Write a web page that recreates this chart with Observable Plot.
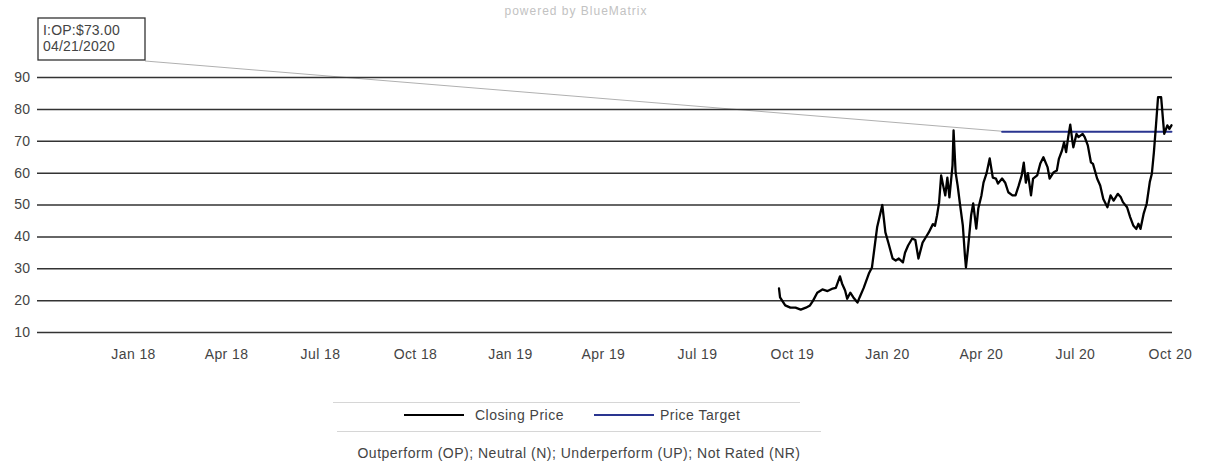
<!DOCTYPE html>
<html>
<head>
<meta charset="utf-8">
<script src="https://cdn.jsdelivr.net/npm/d3@7"></script>
<script src="https://cdn.jsdelivr.net/npm/@observablehq/plot@0.6"></script>
<style>
  body { margin: 0; background: #fff; font-family: "Liberation Sans", Arial, sans-serif; }
  #wrap { position: relative; width: 1206px; height: 468px; overflow: hidden; background: #fff; }
  #sub { position: relative; height: 17px; }
  #sub span { position: absolute; left: 0; width: 1152px; top: 4px; text-align: center; font-size: 12px; letter-spacing: 1px; line-height: 14px; color: #c2c2c2; }
  #leg { position: relative; height: 96px; color: #444; font-size: 14px; letter-spacing: 0.5px; }
  .sep { position: absolute; height: 1px; background: #d6d6d6; }
  .sw { position: absolute; height: 2px; }
  .lt { position: absolute; line-height: 16px; white-space: nowrap; }
  #foot { position: absolute; left: 0; width: 1158px; text-align: center; line-height: 16px; }
</style>
</head>
<body>
<div id="wrap">
  <div id="sub"><span>powered by BlueMatrix</span></div>
  <div id="chart"></div>
  <div id="leg"></div>
</div>
<script>
// ---- data ----
const closingDates = [
  "2019-09-18","2019-09-19","2019-09-24","2019-09-29","2019-10-04","2019-10-09","2019-10-14","2019-10-18",
  "2019-10-21","2019-10-25","2019-10-30","2019-11-04","2019-11-09","2019-11-12","2019-11-16","2019-11-18",
  "2019-11-21","2019-11-23","2019-11-26","2019-11-29","2019-12-03","2019-12-05","2019-12-09","2019-12-14",
  "2019-12-17","2019-12-20","2019-12-22","2019-12-27","2019-12-30","2020-01-02","2020-01-06","2020-01-09",
  "2020-01-12","2020-01-16","2020-01-18","2020-01-21","2020-01-25","2020-01-28","2020-01-31","2020-02-04",
  "2020-02-07","2020-02-10","2020-02-14","2020-02-16","2020-02-18","2020-02-20","2020-02-22","2020-02-24",
  "2020-02-26","2020-02-28","2020-03-01","2020-03-04","2020-03-05","2020-03-07","2020-03-09","2020-03-11",
  "2020-03-14","2020-03-16","2020-03-17","2020-03-19","2020-03-22","2020-03-24","2020-03-27","2020-03-29",
  "2020-04-01","2020-04-03","2020-04-06","2020-04-09","2020-04-12","2020-04-15","2020-04-17","2020-04-21",
  "2020-04-24","2020-04-27","2020-05-01","2020-05-04","2020-05-07","2020-05-10","2020-05-12","2020-05-14",
  "2020-05-16","2020-05-19","2020-05-21","2020-05-25","2020-05-28","2020-05-31","2020-06-04","2020-06-06",
  "2020-06-10","2020-06-13","2020-06-15","2020-06-18","2020-06-20","2020-06-22","2020-06-24","2020-06-26",
  "2020-06-28","2020-06-29","2020-07-02","2020-07-04","2020-07-08","2020-07-10","2020-07-13","2020-07-16",
  "2020-07-18","2020-07-22","2020-07-25","2020-07-28","2020-08-01","2020-08-04","2020-08-07","2020-08-11",
  "2020-08-14","2020-08-16","2020-08-20","2020-08-23","2020-08-26","2020-08-29","2020-08-31","2020-09-02",
  "2020-09-05","2020-09-08","2020-09-11","2020-09-13","2020-09-15","2020-09-17","2020-09-19","2020-09-22",
  "2020-09-24","2020-09-25","2020-09-28","2020-09-30","2020-10-02"
];
const closingValues = [
  23.8, 21.0, 18.5, 17.8, 17.8, 17.2, 17.8, 18.5,
  20.0, 22.5, 23.5, 23.0, 23.8, 24.0, 27.6, 25.4,
  23.2, 20.6, 22.5, 21.0, 19.4, 21.0, 24.0, 28.5,
  30.4, 38.0, 43.0, 50.0, 41.4, 38.0, 33.2, 32.6,
  33.2, 32.0, 35.0, 37.3, 39.5, 39.0, 33.2, 38.2,
  39.8, 41.4, 44.0, 43.5, 46.7, 50.8, 59.3, 56.0,
  53.0, 58.6, 52.4, 62.4, 73.4, 60.2, 56.0, 50.8,
  43.5, 34.2, 30.4, 36.4, 46.7, 50.5, 42.6, 49.0,
  53.0, 57.0, 60.0, 64.6, 58.6, 58.3, 56.7, 58.3,
  57.0, 54.0, 53.0, 53.0, 56.0, 59.3, 63.3, 57.0,
  60.0, 53.0, 58.3, 59.3, 63.0, 65.0, 61.9, 58.3,
  60.3, 60.8, 64.5, 67.1, 69.7, 66.6, 71.3, 75.2,
  70.2, 68.1, 72.3, 71.3, 72.3, 71.3, 68.7, 63.4,
  62.9, 58.3, 56.1, 51.9, 49.3, 53.0, 51.4, 53.5,
  52.4, 50.9, 49.3, 46.2, 43.6, 42.5, 44.1, 42.5,
  47.2, 50.4, 57.2, 59.8, 66.6, 75.0, 83.8, 83.8,
  76.0, 72.3, 75.0, 73.9, 75.0
];
const targetDates = ["2020-04-21", "2020-10-02"];
const targetValues = [73, 73];
const ratingDates = ["2020-04-21"];
const ratingCodes = ["I:OP"];
const ratingTargets = [73];
const xDomain = ["2017-09-30", "2020-10-03"];
const xTickDates = ["2018-01-01","2018-04-01","2018-07-01","2018-10-01","2019-01-01","2019-04-01",
  "2019-07-01","2019-10-01","2020-01-01","2020-04-01","2020-07-01","2020-10-01"];
const xTickLabels = ["Jan 18","Apr 18","Jul 18","Oct 18","Jan 19","Apr 19","Jul 19","Oct 19","Jan 20","Apr 20","Jul 20","Oct 20"];
const yTicks = [10, 20, 30, 40, 50, 60, 70, 80, 90];
const seriesNames = ["Closing Price", "Price Target"];
const seriesColors = ["#000000", "#2a3590"];
const footnote = "Outperform (OP); Neutral (N); Underperform (UP); Not Rated (NR)";

// ---- chart ----
const parse = d3.utcParse("%Y-%m-%d");
const closeData = closingDates.map((d, i) => ({date: parse(d), price: closingValues[i]}));
const targetData = targetDates.map((d, i) => ({date: parse(d), target: targetValues[i]}));

const plot = Plot.plot({
  width: 1206,
  height: 355,
  marginLeft: 37,
  marginRight: 34,
  marginTop: 60,
  marginBottom: 40,
  style: {fontFamily: "'Liberation Sans', Arial, sans-serif", fontSize: "14px", letterSpacing: "0.4px", color: "#444", background: "transparent"},
  x: {type: "utc", domain: xDomain.map(parse)},
  y: {domain: [10, 90]},
  marks: [
    Plot.ruleY(yTicks, {stroke: "#333", strokeWidth: 1.5}),
    Plot.axisY({ticks: yTicks, tickSize: 0, tickPadding: 7, label: null}),
    Plot.axisX({ticks: xTickDates.map(parse), tickFormat: (d, i) => xTickLabels[i], tickSize: 0, tickPadding: 17, label: null}),
    Plot.line(targetData, {x: "date", y: "target", stroke: seriesColors[1], strokeWidth: 2}),
    Plot.line(closeData, {x: "date", y: "price", stroke: seriesColors[0], strokeWidth: 2.3})
  ]
});
document.getElementById("chart").appendChild(plot);

// rating callout box, tied to the rating point through the plot's scales
const svg = d3.select(plot);
const sx = plot.scale("x"), sy = plot.scale("y");
const px = sx.apply(parse(ratingDates[0])), py = sy.apply(ratingTargets[0]);
const bx = 38, by = 1, bw = 107, bh = 42;
svg.insert("line", "g")
  .attr("x1", bx + bw).attr("y1", by + bh + 1)
  .attr("x2", px).attr("y2", py)
  .attr("stroke", "#b0b0b0").attr("stroke-width", 1);
const box = svg.append("g").attr("text-anchor", "start");
box.append("rect").attr("x", bx).attr("y", by).attr("width", bw).attr("height", bh)
  .attr("fill", "#fff").attr("stroke", "#333").attr("stroke-width", 1.3);
box.append("text").attr("x", bx + 5).attr("y", by + 17)
  .attr("font-size", 14).attr("letter-spacing", "0.2px").attr("fill", "#444")
  .text(`${ratingCodes[0]}:$${ratingTargets[0].toFixed(2)}`);
const rd = parse(ratingDates[0]);
box.append("text").attr("x", bx + 5).attr("y", by + 33)
  .attr("font-size", 14).attr("letter-spacing", "0.2px").attr("fill", "#444")
  .text(d3.utcFormat("%m/%d/%Y")(rd));

// ---- legend & footnote (below the svg) ----
const leg = document.getElementById("leg");
leg.innerHTML = `
  <div class="sep" style="left:333px;width:467px;top:30px"></div>
  <div class="sw" style="left:404px;width:60px;top:42px;background:${seriesColors[0]}"></div>
  <div class="lt" style="left:475px;top:35px">${seriesNames[0]}</div>
  <div class="sw" style="left:594px;width:60px;top:42px;background:${seriesColors[1]};height:1.5px"></div>
  <div class="lt" style="left:660px;top:35px">${seriesNames[1]}</div>
  <div class="sep" style="left:337px;width:484px;top:59px"></div>
  <div id="foot" style="top:73px">${footnote}</div>
`;
</script>
</body>
</html>
